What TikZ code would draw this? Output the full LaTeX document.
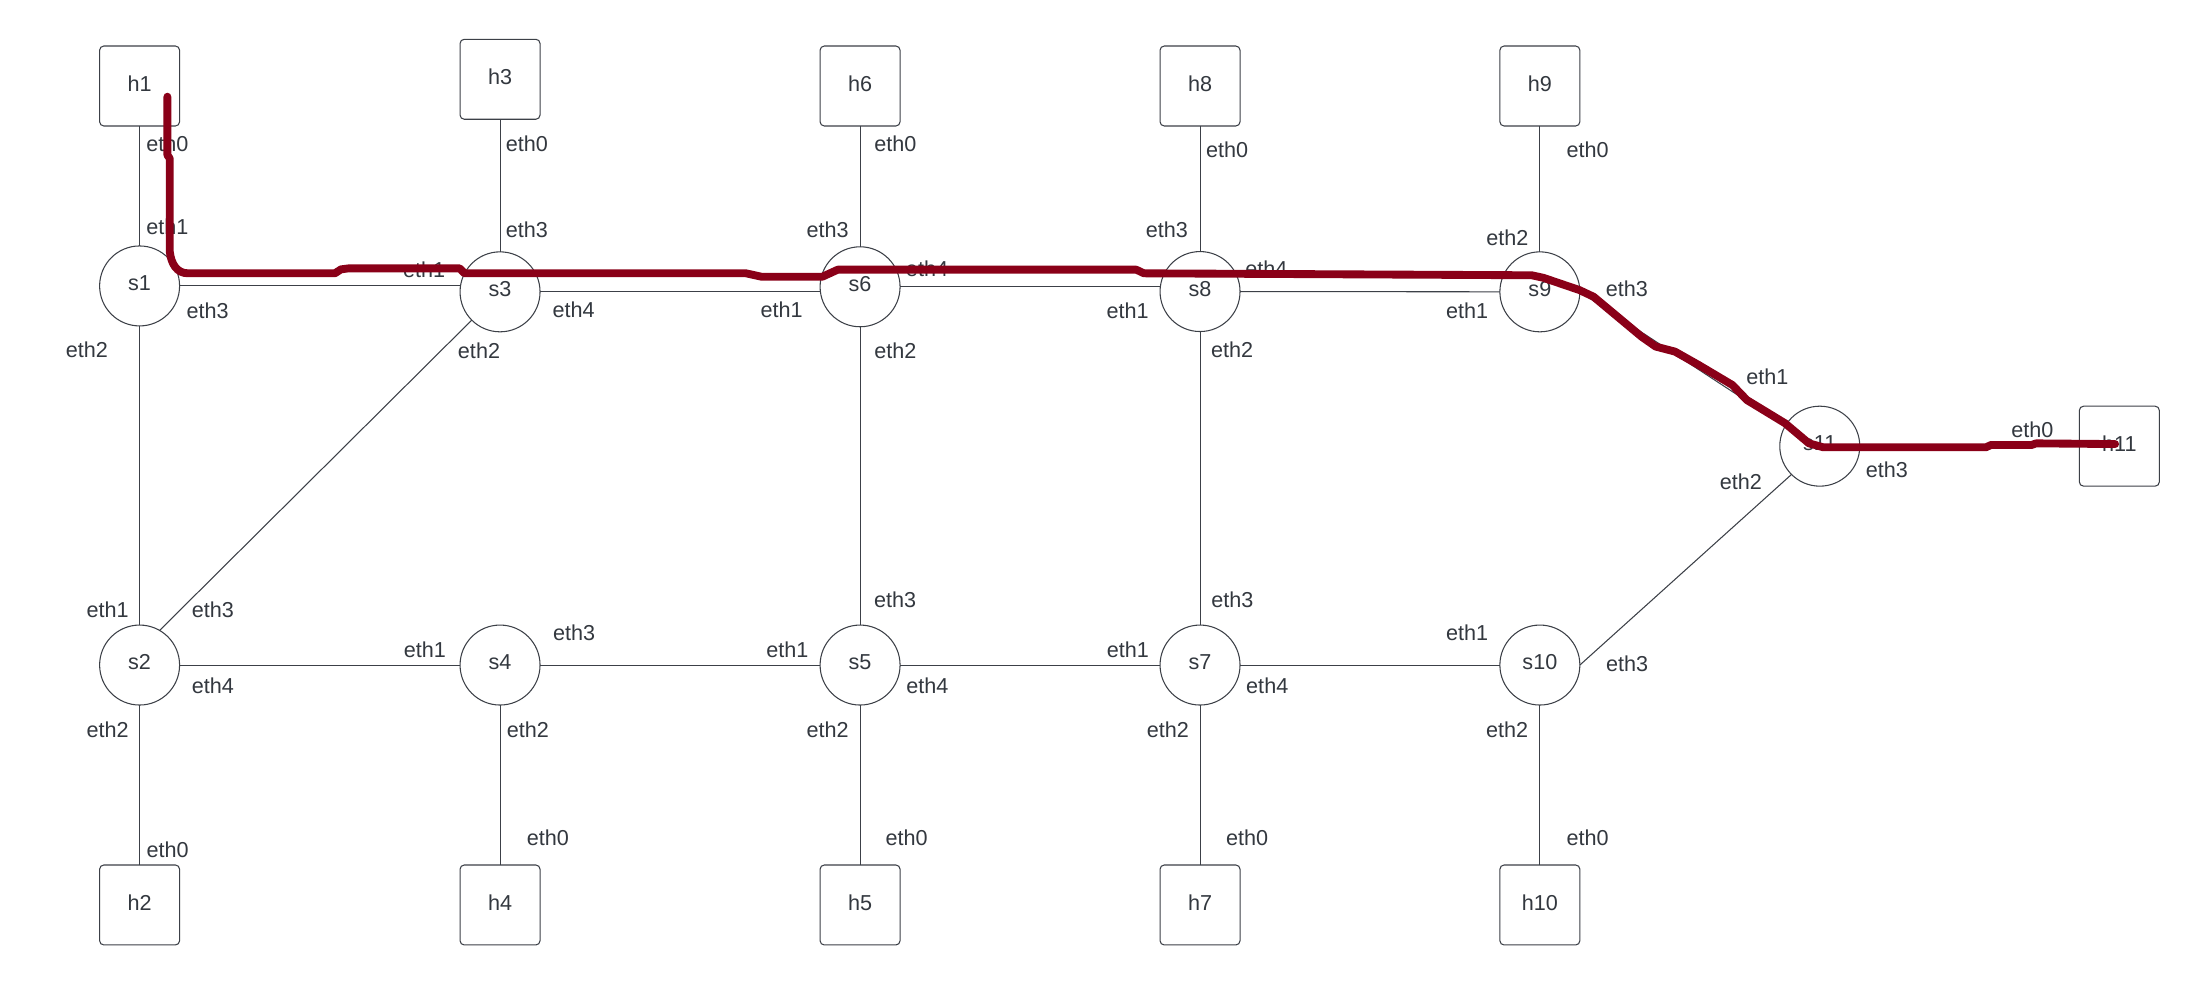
\documentclass[tikz,border=0pt]{standalone}
\usepackage{fontspec}
\setmainfont{Liberation Sans}
\definecolor{ink}{HTML}{33383F}
\definecolor{edge}{HTML}{3C4047}
\definecolor{route}{HTML}{8A0018}
\newcommand\portlabel[3]{\node[port] (#1) at (#2) {#3};}
\begin{document}
\begin{tikzpicture}[x=1pt,y=-1pt,
  every node/.style={font=\fontsize{15.4}{18}\selectfont, text=ink},
  host/.style={draw=edge, line width=0.75pt, rectangle, rounded corners=3pt, minimum width=57pt, minimum height=57pt, inner sep=0pt, outer sep=0pt},
  sw/.style={draw=edge, line width=0.75pt, circle, minimum size=57pt, inner sep=0pt, outer sep=0pt},
  port/.style={inner sep=0pt},
  link/.style={draw=edge, line width=0.75pt},
  routeline/.style={draw=route, line width=5.6pt, line cap=round, line join=round}]
\useasboundingbox[fill=white] (0,0) rectangle (1568,702.75);
% hosts
\node[host] (h1) at (99.5,61.3) {};
\node[host] (h3) at (356.4,56.5) {};
\node[host] (h6) at (613,61.3) {};
\node[host] (h8) at (855.3,61.3) {};
\node[host] (h9) at (1097.5,61.3) {};
\node[host] (h11) at (1510.5,318) {};
\node[host] (h2) at (99.5,645) {};
\node[host] (h4) at (356.4,645) {};
\node[host] (h5) at (613,645) {};
\node[host] (h7) at (855.3,645) {};
\node[host] (h10) at (1097.5,645) {};
% switches
\node[sw] (s1) at (99.5,203.8) {};
\node[sw] (s3) at (356.4,208) {};
\node[sw] (s6) at (613,204.4) {};
\node[sw] (s8) at (855.3,207.8) {};
\node[sw] (s9) at (1097.5,208) {};
\node[sw] (s11) at (1297,318) {};
\node[sw] (s2) at (99.5,474) {};
\node[sw] (s4) at (356.4,474) {};
\node[sw] (s5) at (613,474) {};
\node[sw] (s7) at (855.3,474) {};
\node[sw] (s10) at (1097.5,474) {};
% node texts
\foreach \n in {h1,h3,h6,h8,h9,h11,h2,h4,h5,h7,h10,s1,s3,s6,s8,s9,s11,s2,s4,s5,s7,s10}
  \node[port] (t\n) at ([yshift=1.8pt]\n.center) {\n};
% links
\draw[link] (h1) -- (s1);
\draw[link] (h3) -- (s3);
\draw[link] (h6) -- (s6);
\draw[link] (h8) -- (s8);
\draw[link] (h9) -- (s9);
\draw[link] (s1.east) -- (s1.east -| s3.west);
\draw[link] (s3.east) -- (s3.east -| s6.west);
\draw[link] (s6.east) -- (s6.east -| s8.west);
\draw[link] (s8) -- (s9);
\draw[link] (s9.east) -- (s11.150);
\draw[link] (s11.east) -- (h11.west);
\draw[link] (s1) -- (s2);
\draw[link] (s3.south west) -- (s2.60);
\draw[link] (s2) -- (s4);
\draw[link] (s4) -- (s5);
\draw[link] (s5) -- (s7);
\draw[link] (s7) -- (s10);
\draw[link] (s10.east) -- (s11.south west);
\draw[link] (s6) -- (s5);
\draw[link] (s8) -- (s7);
\draw[link] (s2) -- (h2);
\draw[link] (s4) -- (h4);
\draw[link] (s5) -- (h5);
\draw[link] (s7) -- (h7);
\draw[link] (s10) -- (h10);
% port labels
\portlabel{p1}{119.3,102.6}{eth0}
\portlabel{p2}{119.3,161.6}{eth1}
\portlabel{p3}{148,221.4}{eth3}
\portlabel{p4}{62,249.5}{eth2}
\portlabel{p5}{302.3,192.4}{eth1}
\portlabel{p6}{375.5,102.2}{eth0}
\portlabel{p7}{375.5,164}{eth3}
\portlabel{p8}{408.9,221}{eth4}
\portlabel{p9}{341.4,250}{eth2}
\portlabel{p10}{638.2,102.2}{eth0}
\portlabel{p11}{589.9,164}{eth3}
\portlabel{p12}{660.7,191.3}{eth4}
\portlabel{p13}{557.1,221}{eth1}
\portlabel{p14}{638.2,250}{eth2}
\portlabel{p15}{874.6,106.4}{eth0}
\portlabel{p16}{831.7,164}{eth3}
\portlabel{p17}{902.6,191.3}{eth4}
\portlabel{p18}{803.7,221.4}{eth1}
\portlabel{p19}{878.2,249.5}{eth2}
\portlabel{p20}{1131.5,106.9}{eth0}
\portlabel{p21}{1074.3,169.2}{eth2}
\portlabel{p22}{1159.5,205.5}{eth3}
\portlabel{p23}{1045.6,221.4}{eth1}
\portlabel{p24}{1259.6,268.5}{eth1}
\portlabel{p25}{1240.8,343.3}{eth2}
\portlabel{p26}{1344.8,334.5}{eth3}
\portlabel{p27}{1448.5,306.5}{eth0}
\portlabel{p28}{76.7,434.8}{eth1}
\portlabel{p29}{151.8,434.8}{eth3}
\portlabel{p30}{151.8,488.7}{eth4}
\portlabel{p31}{76.7,520.3}{eth2}
\portlabel{p32}{119.4,605.4}{eth0}
\portlabel{p33}{302.8,463.3}{eth1}
\portlabel{p34}{409.2,451}{eth3}
\portlabel{p35}{376.2,520.3}{eth2}
\portlabel{p36}{390.5,596.8}{eth0}
\portlabel{p37}{638,427.7}{eth3}
\portlabel{p38}{561.2,463.3}{eth1}
\portlabel{p39}{661,488.7}{eth4}
\portlabel{p40}{589.8,520.3}{eth2}
\portlabel{p41}{646.2,596.8}{eth0}
\portlabel{p42}{878.3,427.7}{eth3}
\portlabel{p43}{803.8,463.3}{eth1}
\portlabel{p44}{903.2,488.7}{eth4}
\portlabel{p45}{832.4,520.3}{eth2}
\portlabel{p46}{888.8,596.8}{eth0}
\portlabel{p47}{1045.6,451}{eth1}
\portlabel{p48}{1159.7,472.8}{eth3}
\portlabel{p49}{1074.2,520.3}{eth2}
\portlabel{p50}{1131.5,596.8}{eth0}
% highlighted route
\coordinate (rstart) at (119.3,68.9);
\coordinate (rend) at (1507.5,316.5);
\draw[routeline] (rstart) -- (119.3,110.5) -- (121,113) -- (121,179.4)
  .. controls (122,188) and (126,194.8) .. (134,194.8) -- (238.7,194.8) -- (243,192) -- (248.2,191.3)
  -- (327.7,191.3) -- (331,194.8) -- (531.7,194.8) -- (542.6,197.2) -- (586.2,197.2) -- (597.1,192.2)
  -- (809.8,192.2) -- (815.3,194.8) -- (1091.7,196.2) -- (1100,198) -- (1125.6,206.7) -- (1135.8,211.5)
  -- (1170,240) -- (1180,247) -- (1193.8,250.6) -- (1210.8,260.2) -- (1234.7,274.4) -- (1245,285.1)
  -- (1272.3,301.7) -- (1289.3,316) -- (1299.5,318.8) -- (1415.4,318.8) -- (1418.9,317.2)
  -- (1447.8,317.2) -- (1451.2,316) -- (rend);
\end{tikzpicture}
\end{document}
